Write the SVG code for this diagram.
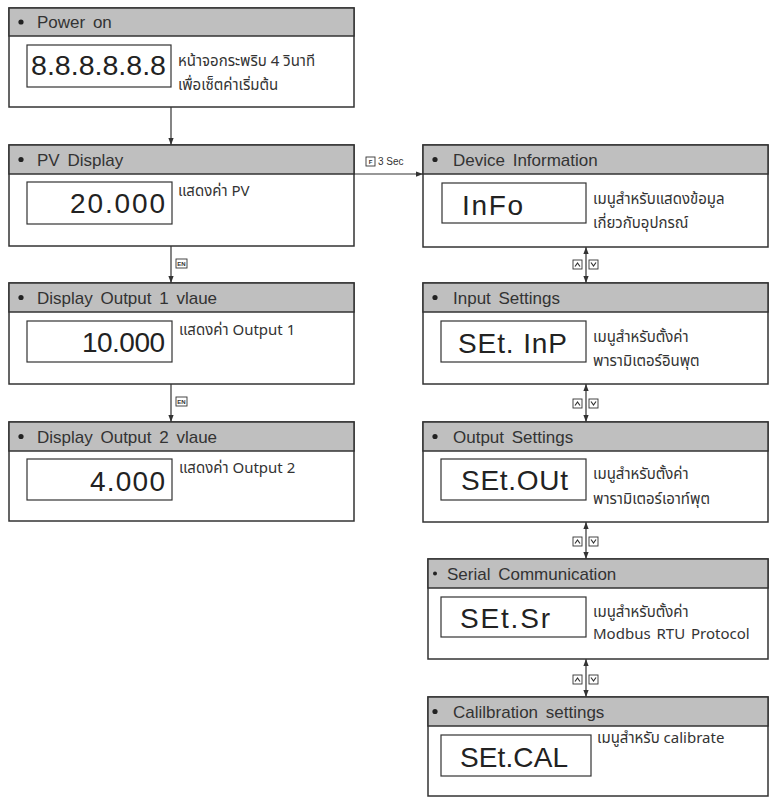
<svg xmlns="http://www.w3.org/2000/svg" width="770" height="798" viewBox="0 0 770 798">
<style>
.box{fill:#fff;stroke:#333;stroke-width:1.5}
.hdr{fill:#bfbfbf;stroke:#333;stroke-width:1.5}
.disp{fill:#fff;stroke:#333;stroke-width:1.2}
.ht{font-family:"Liberation Sans",Arial,sans-serif;font-size:17px;fill:#333;word-spacing:3px}
.dg{font-family:"Liberation Sans",Arial,sans-serif;font-size:28px;fill:#222}
.th{font-family:"Noto Sans Thai","Noto Sans","DejaVu Sans",sans-serif;font-size:15px;fill:#333}
.ln{stroke:#333;stroke-width:1.2;fill:none}
.ic{fill:#fff;stroke:#333;stroke-width:0.9}
.it{font-family:"Liberation Sans",Arial,sans-serif;font-size:6px;font-weight:bold;fill:#333}
.sm{font-family:"Liberation Sans",Arial,sans-serif;font-size:10px;fill:#333}
</style>
<defs>
<marker id="ah" viewBox="0 0 8 8" refX="8" refY="4" markerWidth="7" markerHeight="7" markerUnits="userSpaceOnUse" orient="auto-start-reverse">
<path d="M0,1 L8,4 L0,7 Z" fill="#333"/>
</marker>
</defs>

<g id="connectors">
<line class="ln" x1="171" y1="107" x2="171" y2="145" marker-end="url(#ah)"/>
<line class="ln" x1="171" y1="246" x2="171" y2="283" marker-end="url(#ah)"/>
<line class="ln" x1="171" y1="384" x2="171" y2="422" marker-end="url(#ah)"/>
<line class="ln" x1="354" y1="174" x2="423" y2="174" marker-end="url(#ah)"/>
<line class="ln" x1="586" y1="247" x2="586" y2="283" marker-start="url(#ah)" marker-end="url(#ah)"/>
<line class="ln" x1="586" y1="384" x2="586" y2="422" marker-start="url(#ah)" marker-end="url(#ah)"/>
<line class="ln" x1="586" y1="522" x2="586" y2="559" marker-start="url(#ah)" marker-end="url(#ah)"/>
<line class="ln" x1="586" y1="659" x2="586" y2="697" marker-start="url(#ah)" marker-end="url(#ah)"/>
<rect class="ic" x="366" y="157" width="9" height="9"/>
<text class="it" x="370.5" y="164" text-anchor="middle">F</text>
<text class="sm" x="378" y="165">3 Sec</text>
<rect class="ic" x="176" y="259" width="11" height="9"/>
<text class="it" x="181.5" y="266" text-anchor="middle" font-size="5">EN</text>
<rect class="ic" x="176" y="397" width="11" height="9"/>
<text class="it" x="181.5" y="404" text-anchor="middle" font-size="5">EN</text>
<g id="updown1">
<rect class="ic" x="573" y="260" width="9" height="9"/><polyline class="ln" stroke-width="0.9" points="575,266.5 577.5,263 580,266.5"/>
<rect class="ic" x="589" y="260" width="9" height="9"/><polyline class="ln" stroke-width="0.9" points="591,262.5 593.5,266 596,262.5"/>
</g>
<g id="updown2">
<rect class="ic" x="573" y="399" width="9" height="9"/><polyline class="ln" stroke-width="0.9" points="575,405.5 577.5,402 580,405.5"/>
<rect class="ic" x="589" y="399" width="9" height="9"/><polyline class="ln" stroke-width="0.9" points="591,401.5 593.5,405 596,401.5"/>
</g>
<g id="updown3">
<rect class="ic" x="573" y="537" width="9" height="9"/><polyline class="ln" stroke-width="0.9" points="575,543.5 577.5,540 580,543.5"/>
<rect class="ic" x="589" y="537" width="9" height="9"/><polyline class="ln" stroke-width="0.9" points="591,539.5 593.5,543 596,539.5"/>
</g>
<g id="updown4">
<rect class="ic" x="573" y="675" width="9" height="9"/><polyline class="ln" stroke-width="0.9" points="575,681.5 577.5,678 580,681.5"/>
<rect class="ic" x="589" y="675" width="9" height="9"/><polyline class="ln" stroke-width="0.9" points="591,677.5 593.5,681 596,677.5"/>
</g>
</g>

<g id="power-on">
<rect class="box" x="9" y="8" width="345" height="99"/>
<rect class="hdr" x="9" y="8" width="345" height="28"/>
<circle cx="21" cy="22" r="2.6" fill="#222"/>
<text class="ht" x="37" y="28">Power on</text>
<rect class="disp" x="27" y="45" width="144" height="42"/>
<text class="dg" x="31" y="75" textLength="135" lengthAdjust="spacingAndGlyphs">8.8.8.8.8.8</text>
<text class="th" x="178" y="66">หน้าจอกระพริบ 4 วินาที</text>
<text class="th" x="178" y="90">เพื่อเซ็ตค่าเริ่มต้น</text>
</g>

<g id="pv-display">
<rect class="box" x="9" y="145" width="345" height="101"/>
<rect class="hdr" x="9" y="145" width="345" height="29"/>
<circle cx="21" cy="159.5" r="2.6" fill="#222"/>
<text class="ht" x="37" y="166">PV Display</text>
<rect class="disp" x="27" y="182" width="145" height="42"/>
<text class="dg" x="165" y="213" text-anchor="end" textLength="95" lengthAdjust="spacing">20.000</text>
<text class="th" x="178" y="196">แสดงค่า PV</text>
</g>

<g id="output1">
<rect class="box" x="9" y="283" width="345" height="101"/>
<rect class="hdr" x="9" y="283" width="345" height="29"/>
<circle cx="21" cy="297.5" r="2.6" fill="#222"/>
<text class="ht" x="37" y="304">Display Output 1 vlaue</text>
<rect class="disp" x="27" y="321" width="145" height="41"/>
<text class="dg" x="165" y="352" text-anchor="end" textLength="83" lengthAdjust="spacing">10.000</text>
<text class="th" x="179" y="335">แสดงค่า Output 1</text>
</g>

<g id="output2">
<rect class="box" x="9" y="422" width="345" height="99"/>
<rect class="hdr" x="9" y="422" width="345" height="29"/>
<circle cx="21" cy="436.5" r="2.6" fill="#222"/>
<text class="ht" x="37" y="443">Display Output 2 vlaue</text>
<rect class="disp" x="27" y="459" width="145" height="41"/>
<text class="dg" x="165" y="491" text-anchor="end" textLength="75" lengthAdjust="spacing">4.000</text>
<text class="th" x="179" y="473">แสดงค่า Output 2</text>
</g>

<g id="device-info">
<rect class="box" x="423" y="145" width="345" height="102"/>
<rect class="hdr" x="423" y="145" width="345" height="29"/>
<circle cx="435" cy="159.5" r="2.6" fill="#222"/>
<text class="ht" x="453" y="166">Device Information</text>
<rect class="disp" x="442" y="183" width="144" height="40"/>
<text class="dg" x="462" y="215" textLength="61" lengthAdjust="spacing">InFo</text>
<text class="th" x="593" y="204">เมนูสำหรับแสดงข้อมูล</text>
<text class="th" x="593" y="228">เกี่ยวกับอุปกรณ์</text>
</g>

<g id="input-settings">
<rect class="box" x="423" y="283" width="345" height="101"/>
<rect class="hdr" x="423" y="283" width="345" height="29"/>
<circle cx="435" cy="297.5" r="2.6" fill="#222"/>
<text class="ht" x="453" y="304">Input Settings</text>
<rect class="disp" x="441" y="321" width="145" height="41"/>
<text class="dg" x="458" y="353" textLength="109" lengthAdjust="spacing">SEt. InP</text>
<text class="th" x="593" y="342">เมนูสำหรับตั้งค่า</text>
<text class="th" x="593" y="366">พารามิเตอร์อินพุต</text>
</g>

<g id="output-settings">
<rect class="box" x="423" y="422" width="345" height="100"/>
<rect class="hdr" x="423" y="422" width="345" height="29"/>
<circle cx="435" cy="436.5" r="2.6" fill="#222"/>
<text class="ht" x="453" y="443">Output Settings</text>
<rect class="disp" x="441" y="459" width="145" height="41"/>
<text class="dg" x="461" y="490" textLength="107" lengthAdjust="spacing">SEt.OUt</text>
<text class="th" x="593" y="479">เมนูสำหรับตั้งค่า</text>
<text class="th" x="593" y="504">พารามิเตอร์เอาท์พุต</text>
</g>

<g id="serial-communication">
<rect class="box" x="428" y="559" width="340" height="100"/>
<rect class="hdr" x="428" y="559" width="340" height="29"/>
<circle cx="435" cy="573.5" r="2" fill="#222"/>
<text class="ht" x="447" y="580">Serial Communication</text>
<rect class="disp" x="441" y="597" width="145" height="40"/>
<text class="dg" x="460" y="628" textLength="90" lengthAdjust="spacing">SEt.Sr</text>
<text class="th" x="593" y="617">เมนูสำหรับตั้งค่า</text>
<text class="th" x="593" y="639" font-size="13" word-spacing="2">Modbus RTU Protocol</text>
</g>

<g id="calibration-settings">
<rect class="box" x="428" y="697" width="340" height="99"/>
<rect class="hdr" x="428" y="697" width="340" height="29"/>
<circle cx="435" cy="711.5" r="2.6" fill="#222"/>
<text class="ht" x="453" y="718">Calilbration settings</text>
<rect class="disp" x="441" y="735" width="150" height="41"/>
<text class="dg" x="460" y="767" textLength="108" lengthAdjust="spacing">SEt.CAL</text>
<text class="th" x="597" y="743">เมนูสำหรับ calibrate</text>
</g>
</svg>
